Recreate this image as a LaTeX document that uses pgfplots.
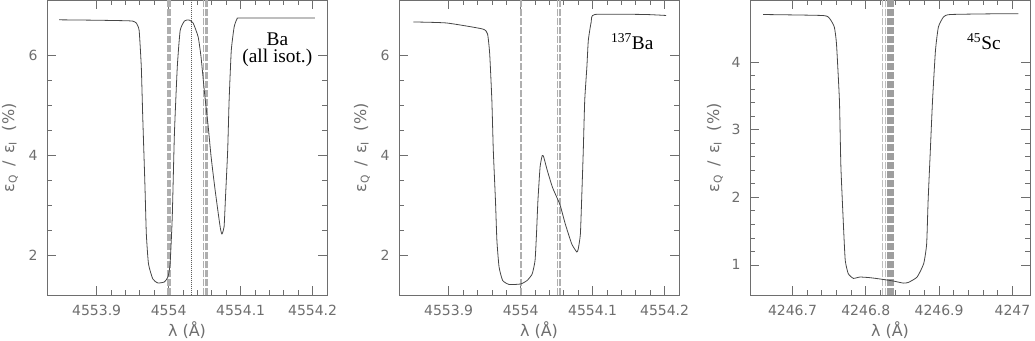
\documentclass[border=0pt]{standalone}
\usepackage{pgfplots}
\pgfplotsset{compat=1.18}
\usepackage{fontspec}
\setmainfont{DejaVu Sans}
\newfontfamily\annfont{Liberation Serif}
\definecolor{axgray}{RGB}{110,110,110}
\definecolor{curvegray}{RGB}{70,70,70}
\definecolor{linegray}{RGB}{175,175,175}
\definecolor{dotgray}{RGB}{95,95,95}

\pgfplotsset{
  panel/.style={
    scale only axis, width=210pt, height=221.25pt,
    anchor=south west,
    axis line style={axgray, line width=0.6pt},
    every tick/.style={axgray, line width=0.5pt},
    tick align=inside,
    major tick length=6.75pt, minor tick length=3.75pt,
    tick label style={font=\fontsize{10.5}{12}\selectfont, text=axgray},
    label style={font=\fontsize{12}{14}\selectfont, text=axgray},
    /pgf/number format/assume math mode=true,
    /pgf/number format/1000 sep={},
    xlabel={λ (Å)},
    ylabel={ε\textsubscript{Q}\, /\, ε\textsubscript{I}\ \ (\%)},
    xlabel style={at={(axis description cs:0.5,-0.119)}, anchor=center},
    xticklabel style={anchor=center, yshift=-11.25pt},
    yticklabel style={anchor=center, xshift=-10.5pt},
    minor x tick num=4,
  },
  curve/.style={curvegray, line width=0.6pt, smooth, tension=0.3},
}
\tikzset{ann/.style={font=\annfont\fontsize{14.5}{16}\selectfont, text=black, align=center}}

\begin{document}
\begin{tikzpicture}
\path[use as bounding box] (-35.25pt,-33.75pt) rectangle (741pt,221.6pt);

% Panel 1: Ba (all isotopes)
\begin{axis}[panel, at={(0pt,0pt)},
    xmin=4553.831, xmax=4554.220, ymin=1.2, ymax=7.1,
    xtick={4553.9,4554,4554.1,4554.2}, xticklabels={4553.9,4554,4554.1,4554.2},
    ytick={2,4,6}, minor y tick num=3,
    ylabel style={at={(axis description cs:-0.132,0.5)}, anchor=center}]
\addplot[linegray, line width=3pt, dash pattern=on 5.25pt off 1.5pt] coordinates {(4554.0005,1.2) (4554.0005,7.1)};
\addplot[dotgray, line width=0.6pt, dash pattern=on 0.75pt off 0.75pt] coordinates {(4554.032,1.2) (4554.032,7.1)};
\addplot[linegray, line width=1pt, dash pattern=on 5.25pt off 1.5pt] coordinates {(4554.048,1.2) (4554.048,7.1)};
\addplot[linegray, line width=2.4pt, dash pattern=on 5.25pt off 1.5pt] coordinates {(4554.0527,1.2) (4554.0527,7.1)};
\addplot[curve] coordinates {
 (4553.848,6.713) (4553.900,6.705) (4553.940,6.695) (4553.950,6.687) (4553.955,6.65)
 (4553.959,6.50) (4553.962,5.77) (4553.964,4.77) (4553.967,3.43) (4553.969,2.43)
 (4553.972,1.83) (4553.978,1.53) (4553.985,1.45) (4553.994,1.47) (4553.999,1.57)
 (4554.002,1.83) (4554.005,2.77) (4554.008,4.43) (4554.012,5.77) (4554.016,6.50)
 (4554.022,6.69) (4554.028,6.71) (4554.034,6.65) (4554.041,6.37) (4554.045,5.97)
 (4554.050,5.23) (4554.055,4.57) (4554.059,3.97) (4554.064,3.37) (4554.069,2.83)
 (4554.072,2.53) (4554.074,2.43) (4554.077,2.57) (4554.079,3.17) (4554.082,4.10)
 (4554.084,5.10) (4554.087,6.10) (4554.091,6.57) (4554.095,6.73) (4554.101,6.75)
 (4554.203,6.75)
};
\node[ann] at (axis cs:4554.151,6.11) {Ba\\[-3pt](all isot.)};
\end{axis}

% Panel 2: 137Ba
\begin{axis}[panel, at={(264pt,0pt)},
    xmin=4553.831, xmax=4554.220, ymin=1.2, ymax=7.1,
    xtick={4553.9,4554,4554.1,4554.2}, xticklabels={4553.9,4554,4554.1,4554.2},
    ytick={2,4,6}, minor y tick num=3,
    ylabel style={at={(axis description cs:-0.132,0.5)}, anchor=center}]
\addplot[linegray, line width=1.3pt, dash pattern=on 5.25pt off 1.5pt] coordinates {(4554.000,1.2) (4554.000,7.1)};
\addplot[linegray, line width=1pt, dash pattern=on 5.25pt off 1.5pt] coordinates {(4554.051,1.2) (4554.051,7.1)};
\addplot[linegray, line width=1.3pt, dash pattern=on 5.25pt off 1.5pt] coordinates {(4554.055,1.2) (4554.055,7.1)};
\addplot[curve] coordinates {
 (4553.851,6.67) (4553.897,6.65) (4553.947,6.53) (4553.954,6.43) (4553.957,6.03)
 (4553.960,5.10) (4553.962,4.10) (4553.965,3.10) (4553.967,2.30) (4553.970,1.77)
 (4553.975,1.50) (4553.984,1.42) (4554.000,1.43) (4554.009,1.50) (4554.016,1.63)
 (4554.020,1.90) (4554.022,2.43) (4554.024,3.10) (4554.027,3.77) (4554.030,4.00)
 (4554.032,3.97) (4554.037,3.70) (4554.044,3.37) (4554.050,3.17) (4554.055,3.00)
 (4554.062,2.63) (4554.071,2.23) (4554.078,2.07) (4554.080,2.13) (4554.083,2.43)
 (4554.085,3.23) (4554.087,4.10) (4554.089,5.10) (4554.092,5.77) (4554.094,6.30)
 (4554.098,6.67) (4554.103,6.82) (4554.172,6.82) (4554.202,6.80)
};
\node[ann] at (axis cs:4554.155,6.27) {\textsuperscript{137}Ba};
\end{axis}

% Panel 3: 45Sc
\begin{axis}[panel, at={(527.25pt,0pt)},
    xmin=4246.642, xmax=4247.024, ymin=0.547, ymax=4.913,
    xtick={4246.7,4246.8,4246.9,4247}, xticklabels={4246.7,4246.8,4246.9,4247},
    ytick={1,2,3,4}, minor y tick num=4,
    ylabel style={at={(axis description cs:-0.125,0.5)}, anchor=center}]
\addplot[linegray!80, line width=0.8pt, dash pattern=on 5.25pt off 1.5pt] coordinates {(4246.8227,0.547) (4246.8227,4.913)};
\addplot[linegray!80, line width=0.8pt, dash pattern=on 5.25pt off 1.5pt] coordinates {(4246.8264,0.547) (4246.8264,4.913)};
\pgfplotsinvokeforeach{4246.8300,4246.8318,4246.8336,4246.8355,4246.8373}{
  \addplot[linegray!90!black, line width=1.1pt, dash pattern=on 5.25pt off 1.5pt] coordinates {(#1,0.547) (#1,4.913)};
}
\addplot[curve] coordinates {
 (4246.660,4.705) (4246.742,4.69) (4246.751,4.64) (4246.757,4.52) (4246.760,4.27)
 (4246.764,3.43) (4246.766,2.45) (4246.770,1.46) (4246.772,1.06) (4246.776,0.87)
 (4246.783,0.80) (4246.792,0.82) (4246.806,0.81) (4246.820,0.79) (4246.838,0.76)
 (4246.851,0.73) (4246.858,0.74) (4246.870,0.82) (4246.879,1.02) (4246.883,1.31)
 (4246.885,1.95) (4246.888,2.69) (4246.891,3.43) (4246.895,4.17) (4246.899,4.52)
 (4246.906,4.67) (4246.915,4.705) (4246.970,4.715) (4247.008,4.715)
};
\node[ann] at (axis cs:4246.961,4.30) {\textsuperscript{45}Sc};
\end{axis}
\end{tikzpicture}
\end{document}
